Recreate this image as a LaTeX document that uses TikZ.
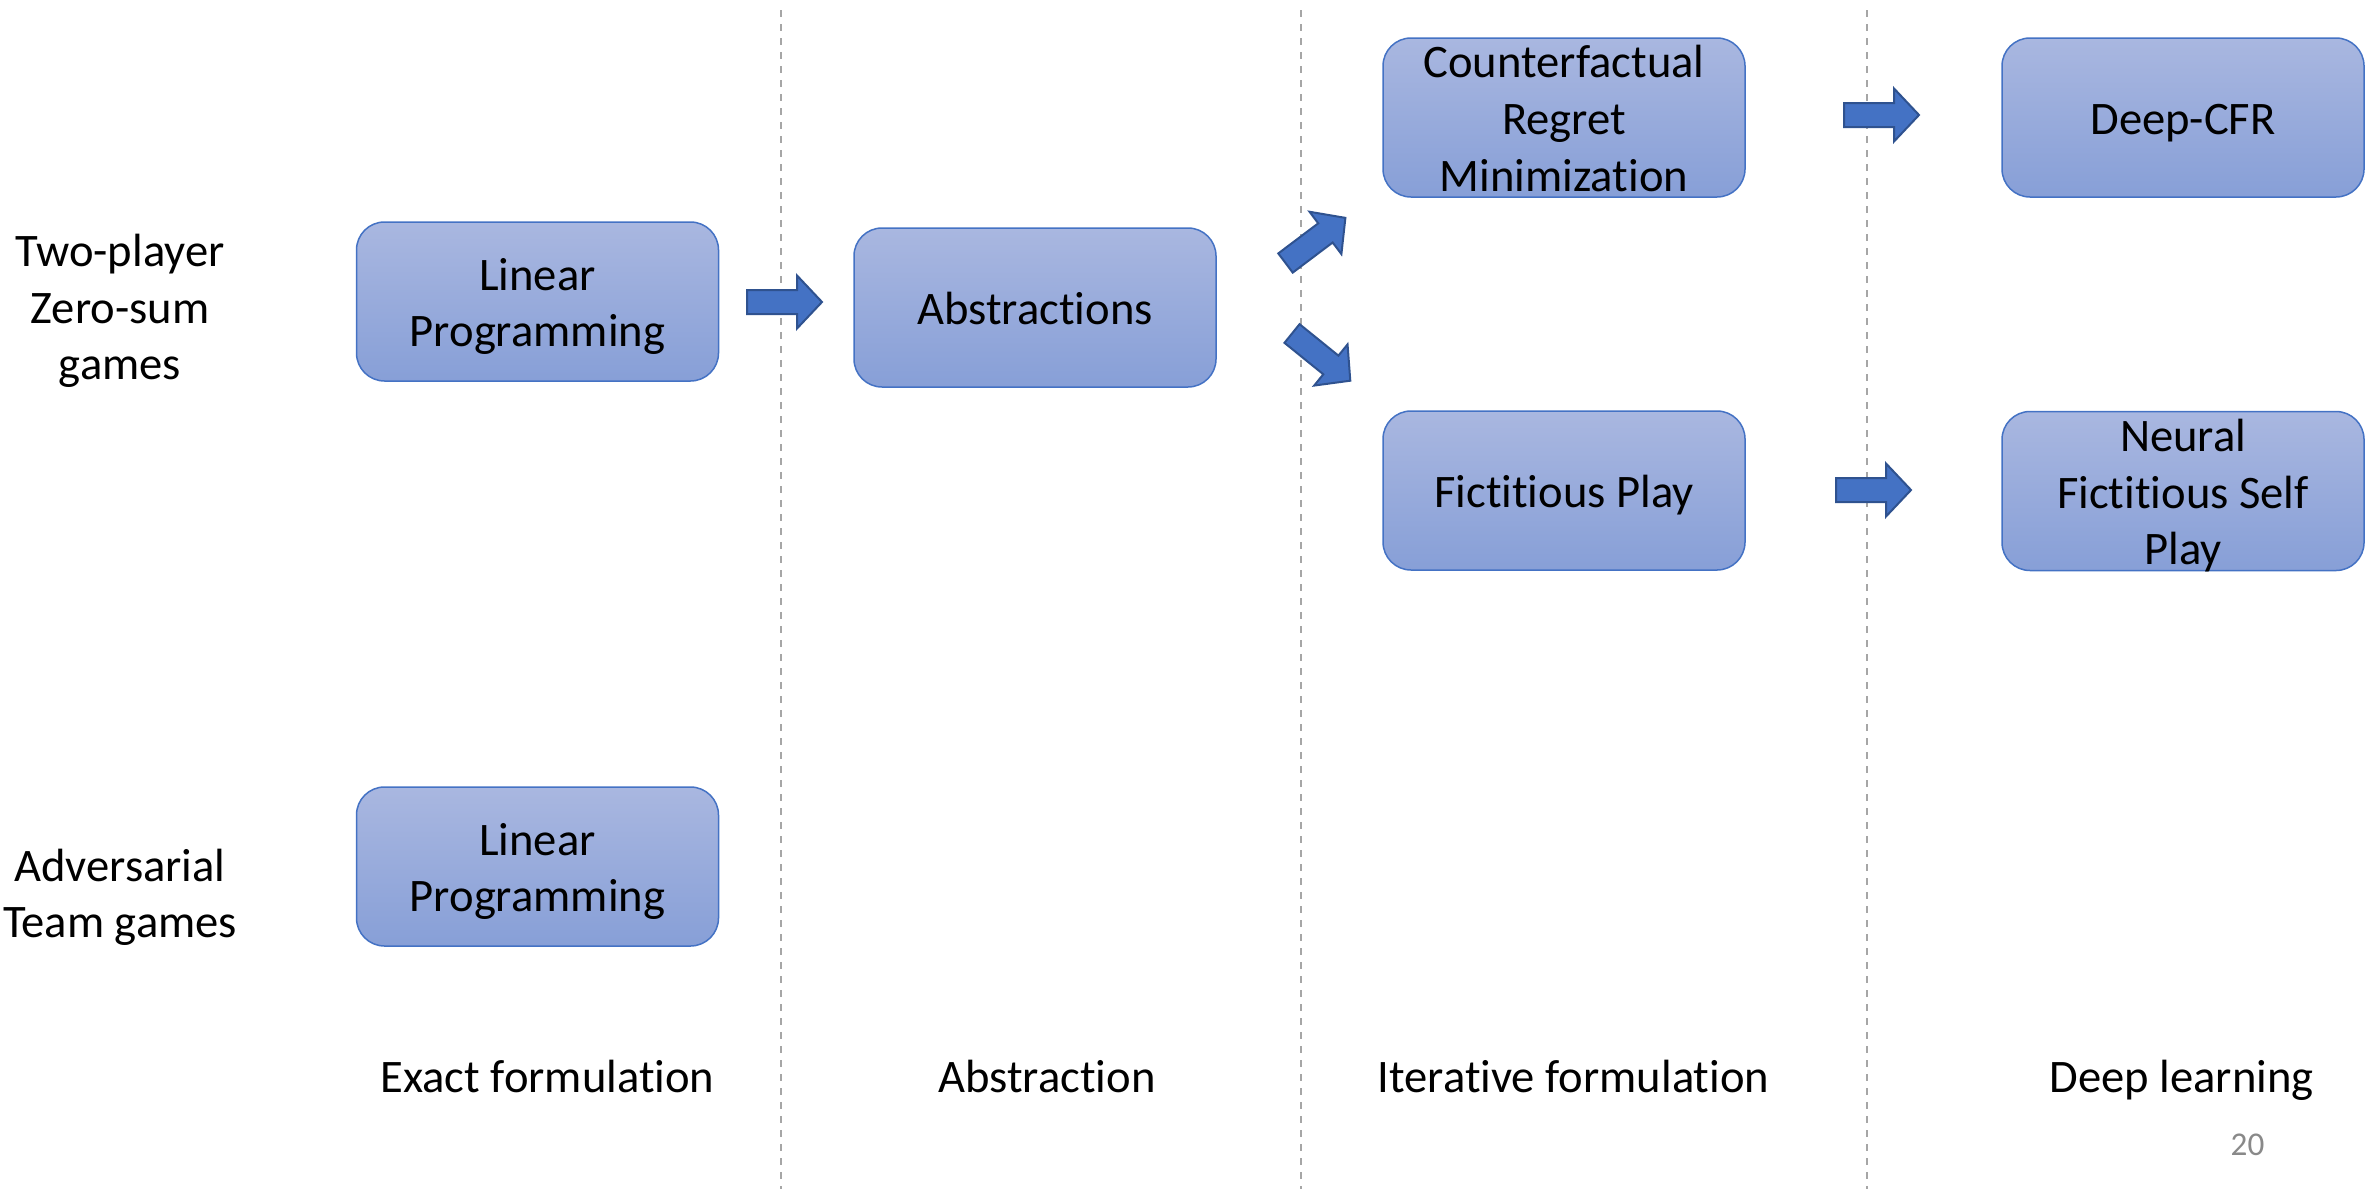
\documentclass[tikz,border=0pt]{standalone}
\usepackage{fontspec}
\setmainfont{Carlito}[Ligatures={NoCommon}]

\definecolor{boxtop}{RGB}{169,183,224}
\definecolor{boxbot}{RGB}{135,159,215}
\definecolor{boxline}{RGB}{68,114,196}
\definecolor{arrfill}{RGB}{68,114,196}
\definecolor{arrline}{RGB}{47,82,143}
\definecolor{sepgray}{RGB}{166,166,166}
\definecolor{numgray}{RGB}{137,137,137}

% one text line with a fixed height and depth, so line stacks centre evenly
\newcommand{\sline}[1]{\rule[-2.5pt]{0pt}{22pt}\smash{#1}}

\tikzset{
  txt/.style={font=\fontsize{23.3}{28.4}\selectfont, inner sep=0pt, align=center},
  stage/.style={txt, rounded corners=14pt, draw=boxline, line width=0.75pt,
    top color=boxtop, bottom color=boxbot, minimum width=181pt, minimum height=79.5pt},
  sepline/.style={draw=sepgray, line width=1.1pt, dash pattern=on 3.5pt off 3.5pt},
  pics/blockarrow/.style={code={
    \draw[fill=arrfill, draw=arrline, line width=1pt, line join=miter]
      (0,-12) -- (50,-12) -- (50,-26.5) -- (75,0) -- (50,26.5) -- (50,12) -- (0,12) -- cycle;}}
}

\begin{document}
\begin{tikzpicture}[x=0.5pt, y=-0.5pt]
  \useasboundingbox (0,0) rectangle (2369,1189);

  % column separators
  \coordinate (s1t) at (781,10);   \coordinate (s1b) at (781,1189);
  \coordinate (s2t) at (1301,10);  \coordinate (s2b) at (1301,1189);
  \coordinate (s3t) at (1867,10);  \coordinate (s3b) at (1867,1189);
  \draw[sepline] (s1t) -- (s1b);
  \draw[sepline] (s2t) -- (s2b);
  \draw[sepline] (s3t) -- (s3b);

  % row labels
  \node[txt] (rowtwo) at (120,306) {\sline{Two-player}\\\sline{Zero-sum}\\\sline{games}};
  \node[txt] (rowteam) at (120,892.5) {\sline{Adversarial}\\\sline{Team games}};

  % method boxes
  \node[stage] (lp1)  at (537.5,301.5) {\sline{Linear}\\\sline{Programming}};
  \node[stage] (abs)  at (1035,307.5)  {\sline{Abstractions}};
  \node[stage] (cfr)  at (1564,117.5)  {\sline{Counterfactual}\\\sline{Regret}\\\sline{Minimization}};
  \node[stage] (dcfr) at (2183,117.5)  {\sline{Deep-CFR}};
  \node[stage] (fp)   at (1564,490.5)  {\sline{Fictitious Play}};
  \node[stage] (nfsp) at (2183,491)    {\sline{Neural}\\\sline{Fictitious Self}\\\sline{Play}};
  \node[stage] (lp2)  at (537.5,866.5) {\sline{Linear}\\\sline{Programming}};

  % block arrows between stages
  \pic at (747,302) {blockarrow};
  \pic[rotate=37] at (1285.5,263) {blockarrow};
  \pic[rotate=-39] at (1292,333.5) {blockarrow};
  \pic at (1844,115) {blockarrow};
  \pic at (1836,490) {blockarrow};

  % column captions
  \node[txt] (cap1) at (547.5,1075)  {\sline{Exact formulation}};
  \node[txt] (cap2) at (1047,1075)   {\sline{Abstraction}};
  \node[txt] (cap3) at (1573.5,1075) {\sline{Iterative formulation}};
  \node[txt] (cap4) at (2181.5,1075) {\sline{Deep learning}};

  % page number
  \node[font=\fontsize{16.6}{20}\selectfont, text=numgray, inner sep=0pt, anchor=base] (pnum) at (2247.5,1155) {20};
\end{tikzpicture}
\end{document}
